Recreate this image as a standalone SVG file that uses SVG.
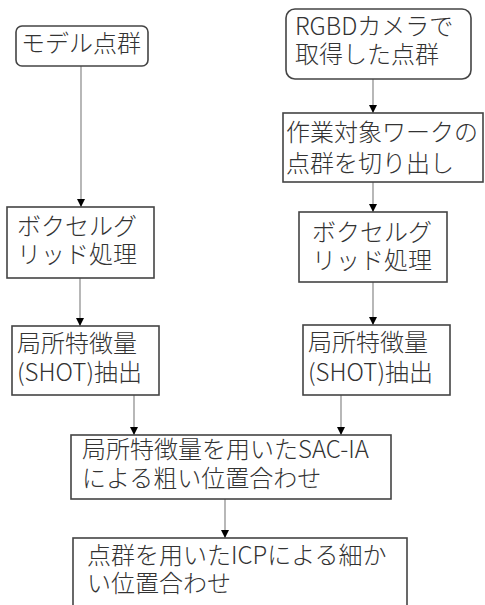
<svg xmlns="http://www.w3.org/2000/svg" width="485" height="605" viewBox="0 0 485 605">
<defs>
<marker id="ah" viewBox="0 0 8 8" refX="8" refY="4" markerWidth="8" markerHeight="8" markerUnits="userSpaceOnUse" orient="auto">
<path d="M0,0 L8,4 L0,8 Z" fill="#000"/>
</marker>
<style>
.box{fill:#fff;stroke:#444;stroke-width:1.6}
.t{font-family:"Noto Sans CJK JP","Noto Sans",sans-serif;font-size:24px;font-weight:300;fill:#333}
.c{stroke:#888;stroke-width:1.2;fill:none;marker-end:url(#ah)}
</style>
</defs>
<rect width="485" height="605" fill="#fff"/>
<g id="connectors">
<line class="c" x1="81" y1="66" x2="81" y2="207"/>
<line class="c" x1="80" y1="278" x2="80" y2="326"/>
<line class="c" x1="373" y1="79" x2="373" y2="113"/>
<line class="c" x1="373" y1="182" x2="373" y2="212"/>
<line class="c" x1="373" y1="282" x2="373" y2="325"/>
<line class="c" x1="134" y1="395" x2="134" y2="435"/>
<line class="c" x1="341" y1="395" x2="341" y2="435"/>
<line class="c" x1="225" y1="499" x2="225" y2="538"/>
</g>
<g id="n1">
<rect class="box" x="16" y="26" width="132" height="40" rx="6"/>
<text class="t" x="21" y="52">モデル点群</text>
</g>
<g id="n2">
<rect class="box" x="286" y="9" width="185" height="70" rx="9"/>
<text class="t" x="295" y="35">RGBDカメラで<tspan x="295" dy="28">取得した点群</tspan></text>
</g>
<g id="n3">
<rect class="box" x="283" y="113" width="200" height="69"/>
<text class="t" x="286" y="141">作業対象ワークの<tspan x="286" dy="31">点群を切り出し</tspan></text>
</g>
<g id="n4">
<rect class="box" x="7" y="207" width="147" height="71"/>
<text class="t" x="17" y="235">ボクセルグ<tspan x="17" dy="28">リッド処理</tspan></text>
</g>
<g id="n5">
<rect class="box" x="12" y="326" width="147" height="69"/>
<text class="t" x="17" y="352">局所特徴量<tspan x="17" dy="29">(SHOT)抽出</tspan></text>
</g>
<g id="n6">
<rect class="box" x="299" y="212" width="148" height="70"/>
<text class="t" x="312" y="241">ボクセルグ<tspan x="312" dy="28">リッド処理</tspan></text>
</g>
<g id="n7">
<rect class="box" x="303" y="325" width="147" height="70"/>
<text class="t" x="308" y="351">局所特徴量<tspan x="308" dy="30">(SHOT)抽出</tspan></text>
</g>
<g id="n8">
<rect class="box" x="71" y="435" width="320" height="64"/>
<text class="t" x="82" y="458">局所特徴量を用いたSAC-IA<tspan x="82" dy="29">による粗い位置合わせ</tspan></text>
</g>
<g id="n9">
<rect class="box" x="73" y="538" width="334" height="80"/>
<text class="t" x="87" y="564">点群を用いたICPによる細か<tspan x="87" dy="28">い位置合わせ</tspan></text>
</g>
</svg>
